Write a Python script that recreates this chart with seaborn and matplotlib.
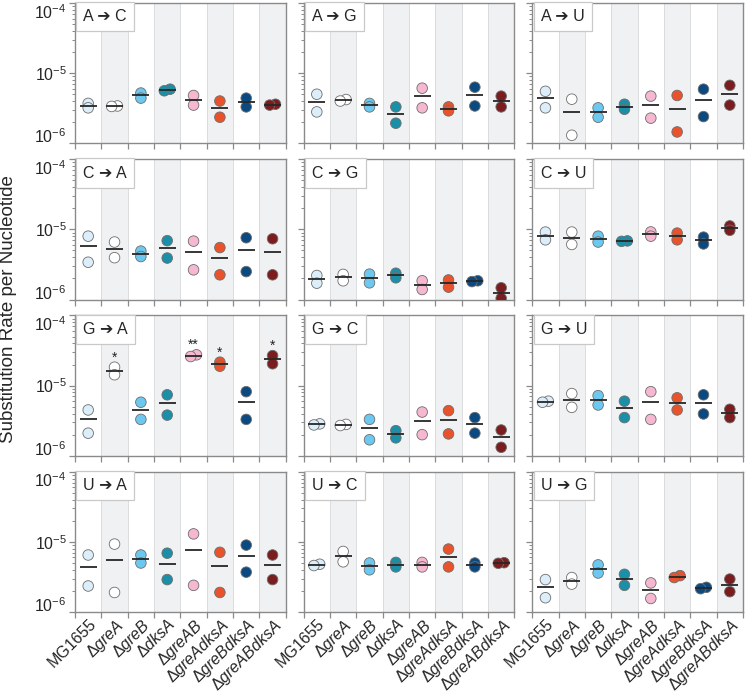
import numpy as np
import pandas as pd
import matplotlib
matplotlib.use("Agg")
import matplotlib.pyplot as plt
import seaborn as sns

# strains in plotting order
strains = ["MG1655", "ΔgreA", "ΔgreB", "ΔdksA", "ΔgreAB",
           "ΔgreAdksA", "ΔgreBdksA", "ΔgreABdksA"]
tick_labels = ["MG1655", r"Δ$\mathit{greA}$", r"Δ$\mathit{greB}$",
               r"Δ$\mathit{dksA}$", r"Δ$\mathit{greAB}$",
               r"Δ$\mathit{greAdksA}$", r"Δ$\mathit{greBdksA}$",
               r"Δ$\mathit{greABdksA}$"]
colors = ["#dbeef9", "#ffffff", "#6cc8ee", "#1a8fa7",
          "#f6b7d0", "#e9532c", "#0b4a80", "#7b1c1e"]

# substitution rates (x 1e-6), two replicate lines per strain
a_c = [(3.7, 3.2), (3.4, 3.35), (5.2, 4.4), (5.9, 5.6),
       (4.8, 3.5), (4.0, 2.35), (4.4, 3.3), (3.6, 3.5)]
a_g = [(5.0, 2.8), (4.2, 4.0), (3.7, 3.3), (3.3, 1.93),
       (6.1, 3.2), (3.3, 2.9), (6.3, 3.4), (4.7, 3.3)]
a_u = [(5.5, 3.2), (4.25, 1.3), (3.2, 2.35), (3.6, 3.05),
       (4.7, 2.28), (4.8, 1.45), (5.9, 2.4), (6.7, 3.5)]
c_a = [(8.0, 3.4), (6.6, 3.95), (4.9, 4.1), (6.9, 3.9),
       (6.8, 2.65), (5.5, 2.25), (7.6, 2.5), (7.35, 2.25)]
c_g = [(2.2, 1.71), (2.28, 1.85), (2.3, 1.73), (2.37, 2.04),
       (1.85, 1.39), (1.9, 1.5), (1.85, 1.8), (1.47, 1.04)]
c_u = [(9.15, 7.1), (9.15, 6.1), (8.0, 6.6), (6.85, 6.75),
       (9.2, 8.0), (8.85, 7.1), (7.75, 6.2), (11.2, 9.7)]
g_a = [(4.5, 2.1), (18.3, 14.3), (5.8, 3.3), (7.4, 3.8),
       (27.5, 26.0), (21.6, 18.9), (8.2, 3.3), (26.8, 20.5)]
g_c = [(2.85, 2.75), (2.8, 2.7), (3.3, 1.69), (2.28, 1.8),
       (4.2, 2.0), (4.4, 2.05), (3.5, 2.1), (2.33, 1.32)]
g_u = [(6.0, 5.8), (7.7, 4.9), (7.2, 5.3), (6.0, 3.5),
       (8.2, 3.3), (6.7, 4.5), (7.4, 3.95), (4.6, 3.5)]
u_a = [(6.5, 2.35), (9.3, 1.9), (6.5, 5.0), (6.9, 2.9),
       (13.0, 2.4), (7.1, 1.9), (9.0, 3.7), (6.5, 2.9)]
u_c = [(4.8, 4.6), (7.3, 5.2), (5.0, 4.0), (5.1, 4.4),
       (5.1, 4.4), (7.9, 4.4), (5.0, 4.4), (5.05, 4.95)]
u_g = [(2.9, 1.6), (3.1, 2.5), (4.7, 3.6), (3.45, 2.4),
       (2.6, 1.56), (3.3, 3.1), (2.25, 2.15), (2.95, 1.95)]

panels = [("A ➔ C", a_c), ("A ➔ G", a_g), ("A ➔ U", a_u),
          ("C ➔ A", c_a), ("C ➔ G", c_g), ("C ➔ U", c_u),
          ("G ➔ A", g_a), ("G ➔ C", g_c), ("G ➔ U", g_u),
          ("U ➔ A", u_a), ("U ➔ C", u_c), ("U ➔ G", u_g)]

# significance marks (G -> A panel only)
g_a_stars = ["", "*", "", "", "**", "*", "", "*"]

sns.set_style("ticks")
plt.rcParams["font.family"] = ["Liberation Sans", "DejaVu Sans"]
plt.rcParams["mathtext.fontset"] = "custom"
plt.rcParams["mathtext.rm"] = "Liberation Sans"
plt.rcParams["mathtext.it"] = "Liberation Sans:italic"

spine_col = "#8a8a8a"
palette = dict(zip(strains, colors))


def nudge(pair):
    # points that sit on top of each other are set side by side (like Prism)
    hi, lo = np.log10(pair)
    if abs(hi - lo) < 0.04:
        return (0.11, -0.11)
    return (0.0, 0.0)


fig, axes = plt.subplots(4, 3, figsize=(7.45, 6.95), dpi=100)
fig.subplots_adjust(left=0.1007, right=0.9973, top=0.9957, bottom=0.1194,
                    wspace=0.085, hspace=0.114)

for k, (ax, (title, vals)) in enumerate(zip(axes.flat, panels)):
    idx = np.arange(len(strains))
    offs = np.ravel([nudge(p) for p in vals])
    df = pd.DataFrame({
        "strain": np.repeat(strains, 2),
        "pos": np.repeat(idx, 2) + offs,
        "rate": np.ravel(vals) * 1e-6,
    })
    means = df.groupby("strain", sort=False)["rate"].mean().values

    ax.set_yscale("log")

    # alternating column shading
    for i in range(1, 8, 2):
        ax.axvspan(i - 0.5, i + 0.5, color="#f0f1f3", lw=0, zorder=0)
    for i in range(7):
        ax.axvline(i + 0.5, color="#dadcde", lw=0.7, zorder=0.5)

    sns.scatterplot(data=df, x="pos", y="rate", hue="strain",
                    hue_order=strains, palette=palette, s=58,
                    edgecolor="#6e6e6e", linewidth=0.6,
                    legend=False, ax=ax, zorder=3)
    ax.hlines(means, idx - 0.32, idx + 0.32, color="#262626", lw=1.3, zorder=4)

    if title == "G ➔ A":
        tops = df.groupby("strain", sort=False)["rate"].max().values
        for i in idx:
            if g_a_stars[i]:
                ax.annotate(g_a_stars[i], xy=(i, tops[i]), xytext=(0, 2),
                            textcoords="offset points", ha="center",
                            va="bottom", fontsize=10, color="#222222")

    ax.set_xlim(-0.5, 7.5)
    ax.set_ylim(1e-6, 1e-4)
    ax.set_xlabel("")
    ax.set_ylabel("")

    ax.set_xticks(idx)
    ax.set_xticks(np.arange(-0.5, 8, 1), minor=True)
    ax.tick_params(axis="x", which="major", length=0, pad=3)
    ax.tick_params(axis="x", which="minor", length=4, width=0.9, color=spine_col)
    if k >= 9:
        ax.set_xticklabels(tick_labels, rotation=45, ha="right",
                           rotation_mode="anchor", fontsize=11.5)
    else:
        ax.set_xticklabels([])

    ax.set_yticks([1e-6, 1e-5, 1e-4])
    ax.yaxis.set_minor_locator(matplotlib.ticker.LogLocator(base=10, subs=np.arange(2, 10)))
    ax.yaxis.set_minor_formatter(matplotlib.ticker.NullFormatter())
    ax.tick_params(axis="y", which="major", length=4, width=0.9,
                   color=spine_col, labelsize=11.5, pad=2)
    ax.tick_params(axis="y", which="minor", length=2, width=0.7, color=spine_col)
    if k % 3 != 0:
        ax.tick_params(axis="y", labelleft=False)
    else:
        ylabs = ax.get_yticklabels()
        ylabs[0].set_va("baseline")
        ylabs[2].set_va("top")

    for sp in ax.spines.values():
        sp.set_visible(True)
        sp.set_color(spine_col)
        sp.set_linewidth(1.0)

    ax.text(0.04, 0.955, title, transform=ax.transAxes, ha="left", va="top",
            fontsize=11.5, zorder=5,
            bbox=dict(boxstyle="square,pad=0.45", fc="white", ec="#c9c9c9", lw=0.9))

fig.text(0.0115, 0.556, "Substitution Rate per Nucleotide", rotation=90,
         ha="center", va="center", fontsize=13.5)

plt.savefig("out.png", dpi=100)
